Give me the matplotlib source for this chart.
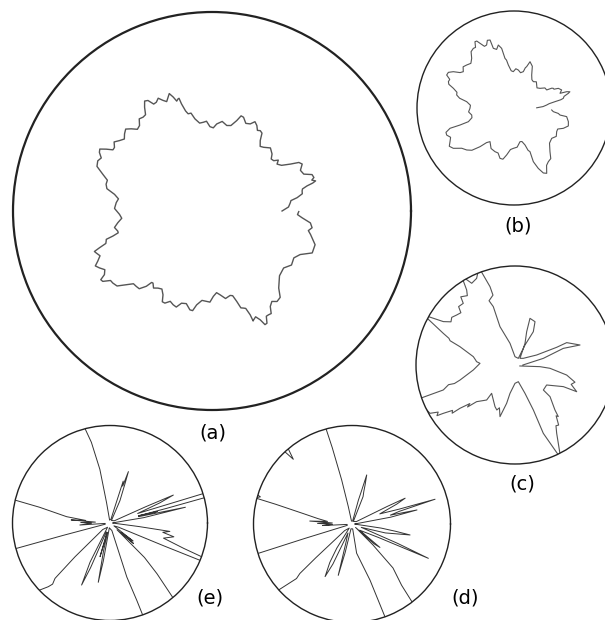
import numpy as np
import matplotlib.pyplot as plt

W, H = 605, 620

# (a) boundary, angle in degrees (counter-clockwise from east) and radius
a_theta = [0.0, 3.0, 6.1, 7.5, 8.9, 10.8, 12.6, 13.7, 14.8, 15.5, 16.2, 17.2, 18.2, 20.0,
           21.9, 24.7, 27.5, 29.2, 30.9, 33.3, 35.8, 37.5, 39.2, 41.3, 43.5, 47.2, 51.0,
           53.3, 55.6, 57.3, 59.0, 60.6, 62.3, 64.3, 66.3, 68.9, 71.4, 73.0, 74.7, 77.5,
           80.2, 83.5, 86.9, 89.1, 91.4, 93.5, 95.6, 98.0, 100.5, 102.1, 103.8, 104.8,
           105.9, 106.3, 106.8, 107.8, 108.8, 110.0, 111.1, 112.5, 113.9, 115.5, 117.1,
           118.6, 120.1, 121.5, 123.0, 124.6, 126.3, 128.3, 130.3, 132.4, 134.5, 136.5,
           138.6, 140.6, 142.7, 144.8, 146.9, 148.3, 149.7, 151.1, 152.5, 154.4, 156.3,
           158.8, 161.4, 163.6, 165.8, 168.0, 170.3, 172.6, 175.0, 178.5, 182.1, 184.6,
           187.1, 189.6, 192.1, 193.1, 194.2, 195.0, 195.9, 197.0, 198.1, 199.0, 199.9,
           201.8, 203.7, 205.2, 206.8, 208.7, 210.6, 211.7, 212.8, 214.4, 216.0, 218.3,
           220.7, 222.8, 224.9, 226.9, 228.9, 229.8, 230.7, 232.8, 235.0, 237.3, 239.7,
           241.3, 242.9, 245.2, 247.5, 249.6, 251.7, 254.5, 257.4, 259.0, 260.7, 263.6,
           266.6, 268.7, 270.9, 273.2, 275.5, 278.8, 282.1, 283.7, 285.3, 286.6, 288.0,
           289.1, 290.2, 290.5, 290.9, 292.4, 293.9, 295.0, 296.1, 297.3, 298.6, 300.0,
           301.4, 303.5, 305.7, 308.3, 310.9, 316.2, 321.5, 325.8, 330.2, 333.7, 337.3,
           341.9, 346.6, 348.5, 350.5, 353.1, 355.7, 357.6, 359.6]
a_r = [0.352, 0.385, 0.396, 0.400, 0.433, 0.462, 0.464, 0.468, 0.494, 0.525, 0.542, 0.525,
       0.539, 0.535, 0.497, 0.489, 0.511, 0.500, 0.459, 0.418, 0.403, 0.420, 0.400, 0.396,
       0.416, 0.432, 0.412, 0.405, 0.429, 0.465, 0.471, 0.465, 0.485, 0.498, 0.478, 0.472,
       0.497, 0.500, 0.471, 0.440, 0.436, 0.453, 0.438, 0.418, 0.424, 0.452, 0.448, 0.446,
       0.471, 0.503, 0.503, 0.520, 0.560, 0.590, 0.589, 0.580, 0.605, 0.628, 0.613, 0.595,
       0.608, 0.628, 0.614, 0.612, 0.642, 0.648, 0.622, 0.588, 0.585, 0.590, 0.563, 0.556,
       0.579, 0.598, 0.586, 0.570, 0.584, 0.602, 0.585, 0.585, 0.616, 0.644, 0.638, 0.617,
       0.627, 0.620, 0.579, 0.548, 0.549, 0.540, 0.497, 0.474, 0.483, 0.490, 0.465, 0.455,
       0.477, 0.497, 0.484, 0.484, 0.514, 0.550, 0.553, 0.558, 0.595, 0.625, 0.619, 0.606,
       0.627, 0.648, 0.634, 0.614, 0.628, 0.657, 0.653, 0.618, 0.616, 0.608, 0.568, 0.538,
       0.537, 0.535, 0.502, 0.470, 0.468, 0.486, 0.473, 0.466, 0.488, 0.520, 0.520, 0.500,
       0.510, 0.515, 0.488, 0.483, 0.509, 0.510, 0.478, 0.452, 0.455, 0.458, 0.429, 0.411,
       0.423, 0.445, 0.434, 0.438, 0.471, 0.508, 0.513, 0.518, 0.556, 0.590, 0.586, 0.575,
       0.598, 0.630, 0.628, 0.595, 0.594, 0.595, 0.562, 0.545, 0.560, 0.553, 0.512, 0.470,
       0.460, 0.483, 0.474, 0.494, 0.546, 0.545, 0.509, 0.494, 0.510, 0.498, 0.454, 0.430,
       0.436]

# (b)
b_theta = [0.5, 2.8, 5.2, 7.0, 8.8, 10.0, 11.1, 13.1, 15.1, 16.2, 17.2, 17.7, 20.8, 23.9,
           25.2, 26.6, 27.7, 28.9, 33.0, 37.1, 41.2, 45.4, 49.5, 53.7, 57.7, 61.8, 66.3,
           70.9, 73.0, 74.3, 75.6, 79.5, 83.5, 87.3, 91.1, 94.3, 97.5, 98.9, 100.3, 101.7,
           104.0, 106.5, 109.1, 109.4, 111.5, 113.5, 115.6, 117.7, 119.1, 120.5, 122.4,
           124.3, 127.3, 130.4, 134.0, 137.7, 141.0, 144.4, 146.7, 149.1, 151.5, 153.9,
           156.0, 158.1, 160.0, 162.0, 164.6, 167.2, 169.8, 172.4, 176.4, 180.4, 184.9,
           189.4, 193.0, 196.7, 197.5, 197.6, 199.7, 201.9, 204.8, 207.7, 210.6, 213.6,
           217.6, 221.6, 225.1, 228.7, 231.6, 234.5, 240.5, 246.5, 250.5, 254.5, 257.8,
           261.1, 265.1, 269.1, 274.6, 280.1, 283.3, 286.6, 288.4, 290.1, 289.8, 291.9,
           294.3, 296.6, 299.6, 302.6, 306.0, 309.5, 315.3, 321.2, 326.1, 331.0, 334.3,
           337.6, 341.7, 345.9, 350.7, 351.3, 353.0, 354.7, 357.0]
b_r = [0.234, 0.300, 0.338, 0.365, 0.428, 0.490, 0.518, 0.530, 0.580, 0.600, 0.568, 0.498,
       0.525, 0.500, 0.455, 0.453, 0.440, 0.385, 0.380, 0.336, 0.315, 0.333, 0.355, 0.337,
       0.345, 0.386, 0.470, 0.505, 0.446, 0.430, 0.387, 0.370, 0.394, 0.405, 0.375, 0.385,
       0.447, 0.500, 0.520, 0.628, 0.669, 0.630, 0.651, 0.743, 0.750, 0.708, 0.705, 0.753,
       0.790, 0.793, 0.740, 0.744, 0.730, 0.673, 0.640, 0.659, 0.675, 0.643, 0.665, 0.729,
       0.770, 0.773, 0.725, 0.729, 0.715, 0.657, 0.610, 0.606, 0.570, 0.492, 0.450, 0.454,
       0.470, 0.442, 0.445, 0.491, 0.584, 0.692, 0.745, 0.748, 0.720, 0.745, 0.775, 0.751,
       0.680, 0.652, 0.615, 0.531, 0.455, 0.426, 0.480, 0.491, 0.492, 0.539, 0.540, 0.490,
       0.430, 0.416, 0.405, 0.353, 0.355, 0.398, 0.460, 0.479, 0.588, 0.671, 0.735, 0.753,
       0.680, 0.657, 0.645, 0.583, 0.515, 0.499, 0.525, 0.503, 0.500, 0.550, 0.590, 0.578,
       0.550, 0.480, 0.460, 0.407, 0.389]

# (c)
c_theta = [0.0, 13.2, 19.0, 17.1, 23.4, 23.0, 24.8, 38.7, 53.1, 65.2, 70.7, 72.2, 65.2,
           61.2, 63.4, 63.4, 90.0, 103.0, 111.4, 110.4, 112.0, 107.5, 107.7, 110.3, 113.9,
           117.9, 121.0, 122.8, 124.5, 128.5, 130.0, 134.0, 136.0, 139.4, 143.0, 146.0,
           148.8, 151.3, 156.2, 158.0, 159.5, 161.6, 168.7, 173.0, 175.0, 177.3, 186.8,
           195.3, 197.0, 196.5, 199.2, 199.4, 209.6, 211.5, 213.0, 214.0, 216.0, 217.5,
           218.2, 220.5, 221.5, 223.7, 231.0, 230.5, 244.4, 248.0, 250.0, 253.8, 257.7,
           260.0, 270.0, 281.3, 289.4, 292.2, 292.5, 296.1, 301.4, 304.0, 306.0, 309.0,
           310.0, 311.6, 317.9, 318.6, 327.7, 335.9, 336.6, 341.0, 344.0, 349.0, 354.6,
           356.2, 348.7]
c_r = [0.08, 0.294, 0.516, 0.687, 0.569, 0.457, 0.241, 0.108, 0.084, 0.241, 0.357, 0.495,
       0.482, 0.384, 0.226, 0.075, 0.084, 0.225, 0.416, 0.629, 0.700, 0.740, 0.831, 1.05,
       0.957, 0.934, 1.05, 0.901, 0.850, 0.880, 0.813, 0.820, 0.760, 0.776, 0.800, 0.780,
       0.846, 1.05, 0.791, 0.720, 0.700, 0.586, 0.429, 0.400, 0.390, 0.354, 0.424, 0.576,
       0.640, 0.700, 0.767, 1.05, 0.988, 0.910, 0.940, 0.873, 0.780, 0.800, 0.707, 0.600,
       0.640, 0.536, 0.455, 0.371, 0.467, 0.490, 0.460, 0.543, 0.396, 0.291, 0.185, 0.172,
       0.303, 0.491, 0.747, 1.05, 0.808, 0.740, 0.750, 0.660, 0.680, 0.608, 0.477, 0.382,
       0.378, 0.535, 0.679, 0.600, 0.630, 0.532, 0.355, 0.253, 0.05]

# (d)
d_theta = [0, 5, 10, 12.2, 13, 15, 16.6, 17.5, 20, 24, 25.9, 26.5, 29, 62, 68, 70, 71.5,
           73.3, 74, 75, 78, 100, 102, 103.2, 104.5, 105.3, 106, 128, 130, 132.2, 133, 134,
           160, 162.5, 163.5, 164.9, 165.5, 168, 171, 174, 176, 177, 179, 181, 183, 185,
           196, 197, 197.4, 198, 220, 221.8, 224.5, 223.5, 223, 222, 236, 237.8, 240,
           242.9, 244.5, 246, 252, 255, 256.5, 258, 278, 279, 287.8, 289.6, 291, 306,
           307.5, 309, 313, 315, 316, 318, 320, 321, 333, 335.8, 337, 340, 345, 349.3,
           350.5, 352, 355, 360]
d_r = [0.03, 0.05, 0.4, 0.675, 0.4, 0.5, 0.88, 0.5, 0.3, 0.5, 0.60, 0.4, 0.05, 0.03, 0.3,
       0.35, 0.42, 0.52, 0.35, 0.25, 0.03, 0.03, 0.18, 0.46, 0.8, 1.02, 1.3, 1.3, 1.02,
       0.887, 1.02, 1.3, 1.3, 1.02, 0.97, 1.02, 0.8, 0.5, 0.35, 0.25, 0.43, 0.2, 0.35, 0.2,
       0.3, 0.05, 0.05, 0.5, 1.02, 1.3, 1.3, 1.02, 0.79, 0.73, 0.5, 0.1, 0.05, 0.29, 0.45,
       0.60, 0.45, 0.1, 0.2, 0.54, 0.3, 0.05, 0.05, 0.30, 0.60, 1.02, 1.3, 1.3, 1.02, 0.8,
       0.61, 0.3, 0.05, 0.3, 0.37, 0.1, 0.3, 0.85, 0.5, 0.1, 0.35, 0.60, 0.45, 0.3, 0.05,
       0.03]

# (e)
e_theta = [0, 5, 9, 11.8, 12.5, 13.7, 14.2, 14.5, 15.1, 17.4, 19, 22, 23.8, 24.5, 27, 60,
           66, 69, 70.3, 71, 72.5, 73, 76, 98, 99.6, 100.7, 103, 105, 106, 135, 165, 166.4,
           167.4, 171.7, 174, 175.5, 176.5, 179, 180.6, 183.8, 185, 194, 194.8, 195.2, 196,
           222, 223.1, 225.9, 226.8, 225.2, 224, 222, 240, 243, 245.4, 246.5, 247.5, 252,
           253.5, 255, 257, 258.8, 260, 262, 284, 287.3, 289.1, 289.6, 291, 308, 310,
           312.8, 315, 316, 318.9, 320, 322, 324, 334, 337, 337.6, 339, 341, 344.2, 347.8,
           350, 352, 353, 356, 360]
e_r = [0.03, 0.04, 0.35, 0.79, 0.3, 0.5, 0.3, 0.6, 1.2, 1.2, 0.3, 0.55, 0.71, 0.4, 0.05,
       0.03, 0.25, 0.42, 0.56, 0.4, 0.45, 0.2, 0.04, 0.03, 0.21, 0.56, 0.85, 1.02, 1.3, 1.3,
       1.3, 1.02, 0.74, 0.45, 0.25, 0.40, 0.15, 0.30, 0.19, 0.31, 0.05, 0.05, 0.5, 1.02,
       1.3, 1.3, 1.02, 0.91, 0.86, 0.80, 0.5, 0.1, 0.05, 0.45, 0.70, 0.5, 0.1, 0.1, 0.36,
       0.1, 0.3, 0.62, 0.4, 0.05, 0.08, 0.58, 0.84, 1.02, 1.3, 1.3, 1.02, 0.71, 0.5, 0.1,
       0.32, 0.15, 0.3, 0.05, 0.1, 0.6, 1.2, 1.2, 0.8, 0.57, 0.67, 0.55, 0.62, 0.3, 0.05,
       0.03]

fig = plt.figure(figsize=(W / 100, H / 100), dpi=100)


def panel(cx, cy, rad, theta, r, label, lx, ly, spine_lw=1.0, color='#555555', lw=0.8):
    ax = fig.add_axes([(cx - rad) / W, 1 - (cy + rad) / H, 2 * rad / W, 2 * rad / H],
                      projection='polar')
    ax.plot(np.radians(theta), r, color=color, lw=lw)
    ax.set_ylim(0, 1)
    ax.set_xticks([])
    ax.set_yticks([])
    ax.grid(False)
    ax.spines['polar'].set_linewidth(spine_lw)
    ax.spines['polar'].set_color('#222222')
    fig.text(lx / W, 1 - ly / H, label, ha='center', va='center', fontsize=14)
    return ax


panel(212, 211, 199, a_theta, a_r, '(a)', 213, 433, spine_lw=1.6, lw=1.0)
panel(514, 108, 97, b_theta, b_r, '(b)', 518, 226)
panel(515, 365, 99, c_theta, c_r, '(c)', 522, 484)
panel(352, 524, 98.5, d_theta, d_r, '(d)', 465, 598, color='#333333', lw=0.7)
panel(110, 523, 97.5, e_theta, e_r, '(e)', 210, 598, color='#333333', lw=0.7)

fig.savefig('out.png', dpi=100)
